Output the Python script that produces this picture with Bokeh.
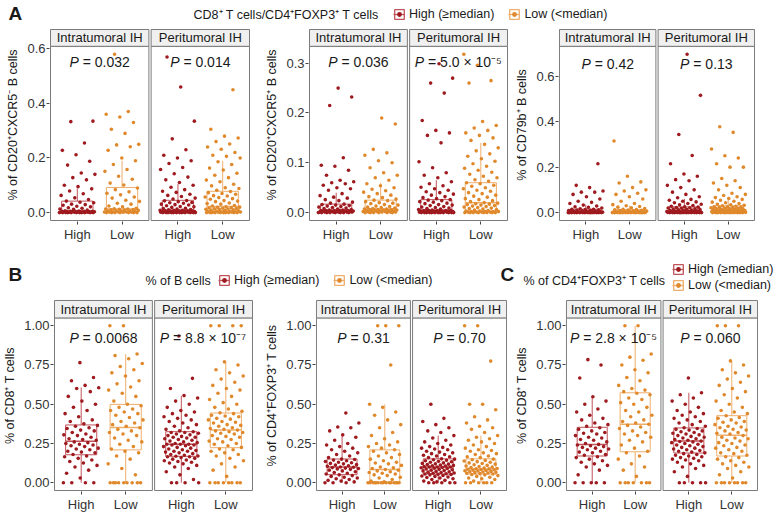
import numpy as np
from bokeh.plotting import figure
from bokeh.layouts import column, row
from bokeh.models import (ColumnDataSource, FixedTicker, Range1d, Label, Legend,
                          LegendItem, CustomJSTickFormatter, NumeralTickFormatter)
from bokeh.core.properties import value
from bokeh.embed import file_html
from bokeh.resources import INLINE

FONT = "Liberation Sans"

groups = ["High", "Low"]
facets = ["Intratumoral IH", "Peritumoral IH"]
legend_labels = ["High (\u2265median)", "Low (<median)"]
PT_COL = {"High": "#9e1a1f", "Low": "#e0892c"}
BOX_COL = {"High": "#c0545b", "Low": "#eeae6c"}

# ---------------- Panel A1 : % of CD20+CXCR5- B cells ----------------
a1_intra_high = [0, 0, 0, 0, 0, 0, 0, 0, 0, 0, 0, 0.001, 0.001, 0.001, 0.001, 0.001,
                 0.001, 0.002, 0.002, 0.002, 0.003, 0.003, 0.003, 0.004, 0.004, 0.004, 0.005, 0.005, 0.005, 0.005,
                 0.006, 0.007, 0.009, 0.012, 0.013, 0.016, 0.018, 0.021, 0.023, 0.027, 0.029, 0.031, 0.036, 0.038, 0.042,
                 0.048, 0.054, 0.063, 0.069, 0.079, 0.087, 0.095, 0.1, 0.12, 0.128, 0.14, 0.145, 0.174, 0.188,
                 0.212, 0.228, 0.255, 0.333, 0.335]
a1_intra_low = [0, 0, 0, 0, 0, 0, 0, 0.001, 0.001, 0.001, 0.002, 0.002, 0.002, 0.003,
                0.004, 0.005, 0.006, 0.006, 0.007, 0.008, 0.009, 0.01, 0.011, 0.012, 0.013, 0.013, 0.014,
                0.016, 0.021, 0.024, 0.031, 0.034, 0.041, 0.045, 0.053, 0.057, 0.065, 0.071, 0.076, 0.084, 0.09,
                0.101, 0.108, 0.122, 0.133, 0.151, 0.158, 0.176, 0.19,
                0.2, 0.228, 0.241, 0.248, 0.25, 0.29, 0.305, 0.33, 0.35, 0.36, 0.37, 0.58]
a1_peri_high = [0, 0, 0, 0, 0, 0, 0, 0, 0, 0, 0, 0, 0.001, 0.001, 0.001, 0.001, 0.002, 0.002, 0.002,
                0.003, 0.003, 0.003, 0.004, 0.004, 0.004, 0.005, 0.005, 0.005, 0.006, 0.006, 0.006, 0.007, 0.007,
                0.007, 0.008, 0.008, 0.008,
                0.01, 0.011, 0.013, 0.015, 0.016, 0.019, 0.021, 0.022, 0.025, 0.028, 0.029, 0.031, 0.034, 0.036,
                0.037, 0.04, 0.043, 0.044,
                0.05, 0.053, 0.059, 0.063, 0.067, 0.074, 0.078, 0.084, 0.093, 0.1,
                0.11, 0.12, 0.13, 0.142, 0.158, 0.165, 0.18, 0.19, 0.2, 0.21, 0.23, 0.27, 0.335, 0.46, 0.57]
a1_peri_low = [0, 0, 0, 0, 0, 0, 0, 0, 0, 0, 0.001, 0.001, 0.002, 0.002, 0.002, 0.003, 0.003,
               0.004, 0.005, 0.006, 0.007, 0.008, 0.009, 0.01, 0.011, 0.012, 0.013, 0.014, 0.015, 0.016, 0.017,
               0.018, 0.019, 0.02, 0.021,
               0.024, 0.026, 0.031, 0.033, 0.035, 0.04, 0.042, 0.044, 0.049, 0.051, 0.055, 0.057, 0.061, 0.062,
               0.067, 0.07, 0.073, 0.077,
               0.082, 0.088, 0.091, 0.098, 0.104, 0.113, 0.119, 0.128, 0.137, 0.144, 0.156, 0.163, 0.176, 0.186,
               0.2, 0.206, 0.21, 0.22, 0.232, 0.24, 0.251, 0.26, 0.273, 0.28, 0.305, 0.45]
a1_box_intra_high = [0.0, 0.0, 0.005, 0.042, 0.088]
a1_box_intra_low = [0.0, 0.001, 0.013, 0.092, 0.19]
a1_box_peri_high = [0.0, 0.002, 0.008, 0.045, 0.105]
a1_box_peri_low = [0.0, 0.003, 0.022, 0.078, 0.19]
a1_p = ["0.032", "0.014"]

# ---------------- Panel A2 : % of CD20+CXCR5+ B cells ----------------
a2_intra_high = [0, 0, 0, 0, 0, 0, 0, 0, 0.001, 0.001, 0.001, 0.001, 0.001, 0.001,
                 0.002, 0.002, 0.002, 0.002, 0.003, 0.003, 0.003, 0.003, 0.004, 0.004, 0.004, 0.004, 0.004,
                 0.005, 0.005, 0.006, 0.007, 0.008, 0.009, 0.01, 0.011, 0.012, 0.013, 0.014, 0.015, 0.016, 0.017,
                 0.019, 0.021, 0.024, 0.026, 0.029, 0.031, 0.034, 0.038,
                 0.045, 0.048, 0.05, 0.055, 0.058, 0.06, 0.062, 0.065, 0.075, 0.085, 0.093, 0.095, 0.11,
                 0.215, 0.232, 0.25]
a2_intra_low = [0, 0, 0, 0, 0, 0, 0.001, 0.001, 0.001, 0.001, 0.002, 0.002, 0.002,
                0.003, 0.003, 0.003, 0.004, 0.004, 0.005, 0.005, 0.005, 0.006, 0.006, 0.006, 0.007, 0.007,
                0.008, 0.009, 0.01, 0.011, 0.012, 0.013, 0.015, 0.016, 0.018, 0.019, 0.02, 0.022, 0.024, 0.025,
                0.027, 0.03, 0.032, 0.035, 0.038, 0.041, 0.044, 0.047, 0.05, 0.054, 0.058,
                0.065, 0.07, 0.075, 0.08, 0.09, 0.1, 0.104, 0.115, 0.12, 0.127, 0.178, 0.19]
a2_peri_high = [0, 0, 0, 0, 0, 0, 0, 0, 0, 0, 0, 0, 0.001, 0.001, 0.001, 0.001, 0.001, 0.001,
                0.002, 0.002, 0.002, 0.002, 0.002, 0.003, 0.003, 0.003, 0.003, 0.003, 0.003, 0.004, 0.004,
                0.004, 0.004, 0.004,
                0.005, 0.006, 0.007, 0.008, 0.009, 0.01, 0.011, 0.012, 0.014, 0.015, 0.016, 0.018, 0.019, 0.021,
                0.022, 0.024, 0.025, 0.026,
                0.028, 0.03, 0.032, 0.035, 0.037, 0.04, 0.042, 0.045, 0.048, 0.051, 0.054, 0.058, 0.062,
                0.07, 0.075, 0.08, 0.09, 0.102, 0.14, 0.155, 0.16, 0.165, 0.185, 0.24, 0.26, 0.27, 0.299]
a2_peri_low = [0, 0, 0, 0, 0, 0, 0, 0, 0.001, 0.001, 0.001, 0.001, 0.002, 0.002, 0.002, 0.002,
               0.003, 0.003,
               0.004, 0.005, 0.006, 0.007, 0.008, 0.009, 0.01, 0.011, 0.012, 0.013, 0.014, 0.015, 0.016, 0.017,
               0.018, 0.019, 0.02,
               0.022, 0.024, 0.026, 0.028, 0.031, 0.033, 0.035, 0.038, 0.04, 0.043, 0.045, 0.048, 0.05, 0.053,
               0.055, 0.058, 0.06,
               0.063, 0.066, 0.07, 0.073, 0.077, 0.081, 0.085, 0.089, 0.093, 0.098, 0.103, 0.108, 0.113, 0.118,
               0.124, 0.13, 0.137,
               0.145, 0.15, 0.155, 0.16, 0.165, 0.17, 0.175, 0.183, 0.26, 0.265, 0.296, 0.318]
a2_box_intra_high = [0.0, 0.001, 0.004, 0.017, 0.04]
a2_box_intra_low = [0.0, 0.002, 0.007, 0.025, 0.06]
a2_box_peri_high = [0.0, 0.001, 0.004, 0.026, 0.065]
a2_box_peri_low = [0.0, 0.003, 0.02, 0.06, 0.14]
a2_p = ["0.036", "5.0 \u00d7 10\u207b\u2075"]

# ---------------- Panel A3 : % of CD79b+ B cells ----------------
a3_intra_high = [0] * 15 + [0.001, 0.001, 0.001, 0.001, 0.001, 0.001, 0.002, 0.002, 0.002, 0.002,
                            0.003, 0.003, 0.003, 0.003,
                            0.004, 0.005, 0.006, 0.007, 0.008, 0.009, 0.01, 0.011, 0.012, 0.013, 0.014, 0.015,
                            0.017, 0.02, 0.023, 0.026, 0.029, 0.033,
                            0.04, 0.045, 0.05, 0.06, 0.07, 0.08, 0.09, 0.09, 0.095, 0.11, 0.12, 0.215]
a3_intra_low = [0] * 15 + [0.001, 0.001, 0.001, 0.001, 0.001, 0.002, 0.002, 0.002, 0.002, 0.002,
                           0.003, 0.003, 0.003, 0.003,
                           0.004, 0.005, 0.006, 0.007, 0.008, 0.009, 0.01, 0.011, 0.012, 0.013,
                           0.015, 0.018, 0.021, 0.024, 0.027, 0.03,
                           0.035, 0.04, 0.05, 0.06, 0.07, 0.08, 0.085, 0.095, 0.1, 0.11, 0.13, 0.135, 0.16, 0.315]
a3_peri_high = [0] * 14 + [0.001, 0.001, 0.001, 0.001, 0.001,
                           0.002, 0.002, 0.002, 0.002, 0.002, 0.003, 0.003, 0.003, 0.003, 0.003,
                           0.004, 0.004, 0.004, 0.004, 0.005, 0.005, 0.005,
                           0.006, 0.007, 0.008, 0.009, 0.01, 0.011, 0.012, 0.013, 0.015, 0.016, 0.017, 0.019,
                           0.02, 0.021, 0.022, 0.024, 0.025,
                           0.028, 0.031, 0.034, 0.037, 0.04, 0.043, 0.047, 0.05, 0.054, 0.058,
                           0.065, 0.07, 0.08, 0.09, 0.1, 0.11, 0.12, 0.14, 0.145, 0.16, 0.17, 0.215, 0.251,
                           0.344, 0.516, 0.697]
a3_peri_low = [0] * 12 + [0.001, 0.001, 0.001, 0.001, 0.001, 0.002, 0.002, 0.002,
                          0.003, 0.003, 0.004, 0.004, 0.005, 0.005, 0.006, 0.006, 0.007, 0.007, 0.008, 0.008,
                          0.009, 0.009, 0.01, 0.01,
                          0.011, 0.012, 0.013, 0.014, 0.015, 0.016, 0.017, 0.018, 0.019, 0.02, 0.021, 0.022,
                          0.023, 0.024, 0.025, 0.026, 0.028, 0.03,
                          0.032, 0.034, 0.037, 0.04, 0.043, 0.046, 0.05, 0.054, 0.058, 0.062, 0.066, 0.07,
                          0.075, 0.08, 0.085, 0.1, 0.11, 0.12, 0.13, 0.14, 0.15, 0.2, 0.2, 0.215, 0.24, 0.25,
                          0.28, 0.353, 0.378]
a3_box_intra_high = [0.0, 0.0, 0.003, 0.015, 0.035]
a3_box_intra_low = [0.0, 0.0, 0.003, 0.013, 0.03]
a3_box_peri_high = [0.0, 0.001, 0.005, 0.025, 0.06]
a3_box_peri_low = [0.0, 0.002, 0.01, 0.03, 0.07]
a3_p = ["0.42", "0.13"]

# ---------------- Panel B1 : % of CD8+ T cells by % of B cells ----------------
b1_intra_high = [0, 0, 0, 0, 0.03, 0.06, 0.08, 0.1, 0.11, 0.125, 0.135, 0.145, 0.155, 0.165, 0.17,
                 0.18, 0.19, 0.195, 0.2, 0.21, 0.215, 0.22, 0.23, 0.235, 0.24, 0.245, 0.25, 0.255, 0.26,
                 0.27, 0.275, 0.28, 0.29, 0.3, 0.305, 0.31, 0.32, 0.33, 0.335, 0.345, 0.35, 0.36, 0.365,
                 0.375, 0.39, 0.4, 0.42, 0.44, 0.46, 0.48, 0.5, 0.52, 0.55, 0.58, 0.6, 0.605,
                 0.62, 0.65, 0.67, 0.765]
b1_intra_low = [0] * 9 + [0.05, 0.09, 0.12, 0.15, 0.17, 0.19, 0.2,
                          0.215, 0.23, 0.245, 0.26, 0.27, 0.285, 0.3, 0.31, 0.32, 0.33, 0.34, 0.35,
                          0.36, 0.37, 0.38, 0.39, 0.4, 0.415, 0.43, 0.44, 0.45, 0.46, 0.47, 0.48, 0.49, 0.5,
                          0.52, 0.55, 0.57, 0.59, 0.61, 0.63, 0.65, 0.68, 0.7, 0.72, 0.74, 0.76, 0.79, 0.81, 0.82,
                          1.0, 1.0]
b1_peri_high = [0, 0, 0, 0, 0.02, 0.05, 0.07, 0.09, 0.1, 0.11, 0.12, 0.125, 0.13, 0.135, 0.14, 0.145,
                0.15, 0.155, 0.16, 0.165, 0.165, 0.168,
                0.17, 0.175, 0.18, 0.185, 0.19, 0.195, 0.2, 0.2, 0.205, 0.21, 0.215, 0.22, 0.225, 0.23,
                0.235, 0.24, 0.24, 0.245, 0.245, 0.245,
                0.25, 0.255, 0.26, 0.265, 0.27, 0.275, 0.28, 0.285, 0.29, 0.29, 0.295, 0.3, 0.305, 0.31,
                0.315, 0.32, 0.32, 0.325,
                0.33, 0.34, 0.35, 0.36, 0.37, 0.38, 0.39, 0.4, 0.41, 0.42, 0.43, 0.44, 0.45, 0.46, 0.48,
                0.5, 0.52, 0.54, 0.555, 0.6, 0.665, 0.935]
b1_peri_low = [0] * 8 + [0.04, 0.08, 0.1, 0.12, 0.14, 0.155, 0.17, 0.18, 0.19, 0.2, 0.21, 0.215,
                         0.225, 0.235, 0.245, 0.25, 0.26, 0.265, 0.275, 0.28, 0.29, 0.295, 0.3, 0.31, 0.315,
                         0.32, 0.325, 0.33, 0.335,
                         0.34, 0.345, 0.35, 0.36, 0.365, 0.37, 0.38, 0.385, 0.39, 0.4, 0.405, 0.41, 0.42,
                         0.425, 0.43, 0.44, 0.445,
                         0.455, 0.47, 0.48, 0.5, 0.51, 0.53, 0.55, 0.57, 0.59, 0.6, 0.62, 0.64, 0.66, 0.68,
                         0.7, 0.72, 0.75, 0.77, 1.0, 1.0, 1.0, 1.0]
b1_box_intra_high = [0.0, 0.178, 0.264, 0.368, 0.607]
b1_box_intra_low = [0.0, 0.209, 0.352, 0.499, 0.82]
b1_box_peri_high = [0.0, 0.168, 0.245, 0.325, 0.554]
b1_box_peri_low = [0.0, 0.223, 0.335, 0.444, 0.775]
b1_p = ["0.0068", "8.8 \u00d7 10\u207b\u2077"]

# ---------------- Panel B2 : % of CD4+FOXP3+ T cells by % of B cells ----------------
b2_intra_high = [0, 0, 0, 0.005, 0.01, 0.015, 0.02, 0.025, 0.03, 0.035, 0.04, 0.045, 0.05,
                 0.055, 0.06, 0.065, 0.07, 0.075, 0.08, 0.085, 0.088, 0.09, 0.093, 0.096, 0.098, 0.1,
                 0.105, 0.108, 0.112, 0.115, 0.12, 0.123, 0.127, 0.13, 0.135, 0.14, 0.144, 0.148, 0.15,
                 0.16, 0.17, 0.18, 0.19, 0.2, 0.21, 0.22, 0.23, 0.24, 0.25, 0.27, 0.29, 0.305,
                 0.33, 0.35, 0.355, 0.38, 0.444]
b2_intra_low = [0] * 15 + [0.005, 0.01, 0.02, 0.03, 0.035, 0.045, 0.05, 0.055, 0.06, 0.065, 0.07, 0.075,
                           0.08, 0.084,
                           0.09, 0.095, 0.1, 0.11, 0.12, 0.125, 0.13, 0.14, 0.15, 0.16, 0.17, 0.18, 0.19, 0.2,
                           0.21,
                           0.22, 0.23, 0.24, 0.25, 0.26, 0.28, 0.3, 0.32, 0.35, 0.37, 0.4, 0.43, 0.45, 0.48, 0.5,
                           0.75, 1.0, 1.0, 1.0]
b2_peri_high = [0, 0, 0, 0, 0, 0.005, 0.01, 0.015, 0.02, 0.025, 0.03, 0.033, 0.036, 0.04, 0.043, 0.046,
                0.05, 0.052, 0.054, 0.055,
                0.057, 0.06, 0.062, 0.065, 0.067, 0.07, 0.072, 0.075, 0.077, 0.08, 0.082, 0.085, 0.087, 0.09,
                0.092, 0.095, 0.097, 0.1, 0.1, 0.1,
                0.103, 0.106, 0.108, 0.11, 0.113, 0.116, 0.118, 0.12, 0.123, 0.126, 0.13, 0.133, 0.136, 0.14,
                0.143, 0.146, 0.15, 0.152,
                0.16, 0.165, 0.17, 0.175, 0.18, 0.185, 0.19, 0.195, 0.2, 0.21, 0.215, 0.22, 0.225, 0.23,
                0.24, 0.25, 0.26, 0.27, 0.285, 0.3,
                0.32, 0.33, 0.35, 0.37, 0.39, 0.41, 0.5]
b2_peri_low = [0] * 6 + [0.01, 0.02, 0.025, 0.03, 0.035, 0.04, 0.045, 0.05, 0.052, 0.055,
                         0.058, 0.06, 0.062, 0.064, 0.066, 0.068, 0.07, 0.072, 0.074, 0.076, 0.078, 0.08, 0.082,
                         0.084, 0.086, 0.088, 0.088,
                         0.09, 0.093, 0.096, 0.1, 0.103, 0.106, 0.11, 0.114, 0.118, 0.122, 0.126, 0.13, 0.134,
                         0.138, 0.142, 0.146, 0.15,
                         0.16, 0.165, 0.17, 0.18, 0.185, 0.19, 0.2, 0.205, 0.21, 0.22, 0.23, 0.24, 0.25, 0.26,
                         0.27, 0.28, 0.29, 0.3,
                         0.32, 0.34, 0.35, 0.36, 0.38, 0.4, 0.42, 0.465, 0.5, 0.5, 0.775, 1.0, 1.0]
b2_box_intra_high = [0.0, 0.051, 0.1, 0.151, 0.309]
b2_box_intra_low = [0.0, 0.0, 0.084, 0.209, 0.499]
b2_box_peri_high = [0.0, 0.055, 0.1, 0.152, 0.3]
b2_box_peri_low = [0.0, 0.055, 0.088, 0.152, 0.3]
b2_p = ["0.31", "0.70"]

# ---------------- Panel C : % of CD8+ T cells by % of CD4+FOXP3+ T cells ----------------
c_intra_high = [0] * 5 + [0.05, 0.08, 0.1, 0.11, 0.12, 0.13, 0.14, 0.15, 0.16, 0.165,
                          0.175, 0.18, 0.19, 0.195, 0.2, 0.21, 0.215, 0.22, 0.225, 0.23, 0.235, 0.24, 0.244,
                          0.25, 0.26, 0.27, 0.275, 0.285, 0.29, 0.3, 0.31, 0.315, 0.32, 0.33, 0.34, 0.35,
                          0.36, 0.37, 0.38, 0.4, 0.41, 0.43, 0.45, 0.47, 0.5, 0.52, 0.548,
                          0.667, 0.75, 0.784]
c_intra_low = [0] * 7 + [0.04, 0.08, 0.1, 0.12, 0.15, 0.17, 0.19,
                         0.2, 0.22, 0.24, 0.26, 0.27, 0.29, 0.3, 0.31, 0.32, 0.33, 0.345, 0.355, 0.365, 0.372,
                         0.38, 0.39, 0.4, 0.42, 0.43, 0.45, 0.46, 0.48, 0.5, 0.51, 0.53, 0.54, 0.56, 0.57,
                         0.58, 0.59, 0.6, 0.62, 0.65, 0.67, 0.7, 0.72, 0.75, 0.78, 0.8, 0.82, 1.0, 1.0]
c_peri_high = [0] * 5 + [0.04, 0.07, 0.09, 0.1, 0.11, 0.12, 0.13, 0.14, 0.145, 0.15, 0.155, 0.16, 0.165,
                         0.17, 0.175, 0.18, 0.185,
                         0.19, 0.195, 0.2, 0.205, 0.21, 0.215, 0.22, 0.225, 0.23, 0.235, 0.24, 0.245, 0.25,
                         0.255, 0.26, 0.262, 0.265,
                         0.27, 0.275, 0.28, 0.285, 0.29, 0.295, 0.3, 0.305, 0.31, 0.315, 0.32, 0.325, 0.33,
                         0.335, 0.34, 0.345, 0.35,
                         0.36, 0.37, 0.38, 0.39, 0.4, 0.41, 0.42, 0.43, 0.44, 0.45, 0.46, 0.48, 0.5, 0.52,
                         0.54, 0.56, 0.573, 0.667]
c_peri_low = [0] * 8 + [0.03, 0.05, 0.07, 0.09, 0.1, 0.11, 0.12, 0.13, 0.14, 0.15, 0.16, 0.165,
                        0.175, 0.185, 0.19, 0.2, 0.21, 0.22, 0.225, 0.235, 0.24, 0.25, 0.255, 0.265, 0.27, 0.28,
                        0.285, 0.29, 0.3,
                        0.31, 0.315, 0.32, 0.33, 0.335, 0.34, 0.35, 0.355, 0.36, 0.37, 0.38, 0.385, 0.39, 0.4,
                        0.41, 0.415, 0.427,
                        0.44, 0.45, 0.46, 0.48, 0.5, 0.52, 0.54, 0.56, 0.58, 0.6, 0.62, 0.64, 0.66, 0.68, 0.7,
                        0.72, 0.75, 0.776, 1.0, 1.0, 1.0]
c_box_intra_high = [0.0, 0.17, 0.244, 0.353, 0.548]
c_box_intra_low = [0.0, 0.197, 0.372, 0.573, 1.0]
c_box_peri_high = [0.0, 0.189, 0.265, 0.349, 0.573]
c_box_peri_low = [0.0, 0.17, 0.302, 0.427, 0.776]
c_p = ["2.8 \u00d7 10\u207b\u2075", "0.060"]

ticks_a1 = [0.0, 0.2, 0.4, 0.6]
ticks_a2 = [0.0, 0.1, 0.2, 0.3]
ticks_a3 = [0.0, 0.2, 0.4, 0.6]
ticks_bc = [0.0, 0.25, 0.5, 0.75, 1.0]

# ---------------- helpers ----------------
FACET_W = 2.2
OFF = 2.25
X0 = 0.4
BOX_HALF = 0.35
JIT = 0.4
CW = {c: 0.556 for c in "0123456789"}
CW.update({".": 0.278, " ": 0.278, "=": 0.584, "\u00d7": 0.584,
           "\u207b": 0.40, "\u2075": 0.40, "\u2077": 0.40})


def text_w(s, fs):
    return sum(CW.get(c, 0.556) for c in s) * fs


def panel(width, height, bl, br, bt, bb, strip_px, p_px, vals, boxes, pvals, ylabel, ticks, fmt):
    allv = np.concatenate([np.asarray(v, float) for fv in vals for v in fv])
    vmin = min(0.0, allv.min())
    vmax = allv.max()
    span = vmax - vmin
    lo, hi = vmin - 0.05 * span, vmax + 0.05 * span
    frame_w = width - bl - br
    frame_h = height - bt - bb
    data_px = frame_h - strip_px
    upp = (hi - lo) / data_px
    stop = hi + strip_px * upp
    x1 = X0 + OFF + FACET_W
    uxp = (x1 - X0) / frame_w
    p = figure(width=width, height=height, output_backend="svg", toolbar_location=None,
               x_range=Range1d(X0 - uxp, x1 + uxp), y_range=Range1d(lo - upp, stop + upp),
               min_border_left=bl, min_border_right=br, min_border_top=bt, min_border_bottom=bb)
    p.outline_line_color = None
    p.xgrid.visible = False
    p.ygrid.visible = False
    lefts = [X0 + f * OFF for f in range(2)]
    rights = [l + FACET_W for l in lefts]
    # boxes + points
    for f in range(2):
        for g in range(2):
            xc = 1 + g + f * OFF
            lw, q1, med, q3, uw = boxes[f][g]
            col = BOX_COL[groups[g]]
            p.segment(x0=[xc, xc], y0=[lw, q3], x1=[xc, xc], y1=[q1, uw], line_color=col, line_width=1)
            p.quad(left=[xc - BOX_HALF], right=[xc + BOX_HALF], bottom=[q1], top=[q3],
                   fill_color=None, line_color=col, line_width=1)
            p.segment(x0=[xc - BOX_HALF], y0=[med], x1=[xc + BOX_HALF], y1=[med],
                      line_color=col, line_width=1.5)
            v = np.asarray(vals[f][g], float)
            k = np.arange(len(v))
            jit = ((k * 0.6180339887 + 0.37 * f + 0.21 * g) % 1.0 - 0.5) * 2 * JIT
            p.scatter(x=xc + jit, y=v, size=3.6, marker="circle",
                      fill_color=PT_COL[groups[g]], line_color=None)
    # facet frames and strips
    p.quad(left=lefts, right=rights, bottom=lo, top=hi, fill_color=None,
           line_color="#7a7a7a", line_width=1)
    p.quad(left=lefts, right=rights, bottom=hi, top=stop, fill_color="#f0f0f0",
           line_color="#7a7a7a", line_width=1)
    p.text(x=[(l + r) / 2 for l, r in zip(lefts, rights)], y=[(hi + stop) / 2] * 2, text=facets,
           text_align="center", text_baseline="middle", text_font=value(FONT),
           text_font_size="13px", text_color="#1a1a1a")
    # P value labels: italic "P" followed by the value
    fs = 14
    wP = 0.667 * fs
    wsp = 0.278 * fs
    cx, pxo, rxo, rest = [], [], [], []
    for f in range(2):
        r = "= " + pvals[f]
        tw = wP + wsp + text_w(r, fs)
        cx.append(X0 + f * OFF + FACET_W / 2)
        pxo.append(-tw / 2)
        rxo.append(-tw / 2 + wP + wsp)
        rest.append(r)
    src = ColumnDataSource(dict(x=cx, y=[hi, hi], pxo=pxo, rxo=rxo, rest=rest))
    p.text(x="x", y="y", text=value("P"), x_offset="pxo", y_offset=p_px, source=src, text_align="left",
           text_baseline="middle", text_font=value(FONT), text_font_size=f"{fs}px",
           text_font_style="italic", text_color="#1a1a1a")
    p.text(x="x", y="y", text="rest", x_offset="rxo", y_offset=p_px, source=src, text_align="left",
           text_baseline="middle", text_font=value(FONT), text_font_size=f"{fs}px", text_color="#1a1a1a")
    # axes
    pos = [1.0, 2.0, 1.0 + OFF, 2.0 + OFF]
    p.xaxis.ticker = FixedTicker(ticks=pos)
    p.xaxis.formatter = CustomJSTickFormatter(
        args=dict(pos=pos, lab=groups * 2),
        code="let b=0; for (let i=0;i<pos.length;i++){ if (Math.abs(pos[i]-tick) < Math.abs(pos[b]-tick)) b=i; } return lab[b];")
    p.yaxis.ticker = FixedTicker(ticks=ticks)
    p.yaxis.formatter = NumeralTickFormatter(format=fmt)
    p.yaxis.axis_label = ylabel
    for ax in (p.xaxis[0], p.yaxis[0]):
        ax.axis_line_color = None
        ax.major_tick_line_color = "#444444"
        ax.major_tick_out = 3
        ax.major_tick_in = 0
        ax.minor_tick_line_color = None
        ax.major_label_text_font = FONT
        ax.major_label_text_font_size = "13px"
        ax.major_label_text_color = "#333333"
        ax.major_label_standoff = 1
    p.xaxis.major_label_standoff = 2
    p.yaxis.axis_label_text_font = FONT
    p.yaxis.axis_label_text_font_size = "12.5px"
    p.yaxis.axis_label_text_font_style = "normal"
    p.yaxis.axis_label_text_color = "#1a1a1a"
    p.yaxis.axis_label_standoff = 4
    return p


def legend_items(fig):
    # renderers sit outside the visible header range; they only feed the legend icons
    items = []
    for g, lab in zip(groups, legend_labels):
        rq = fig.quad(left=[-60], right=[-50], bottom=[-60], top=[-50], fill_color=None,
                      line_color=BOX_COL[g], line_width=1.3)
        rs = fig.segment(x0=[-60], y0=[-55], x1=[-50], y1=[-55], line_color=BOX_COL[g], line_width=1.3)
        rc = fig.scatter(x=[-55], y=[-55], marker="circle", size=4, fill_color=PT_COL[g], line_color=None)
        items.append(LegendItem(label=lab, renderers=[rq, rs, rc]))
    return items


def make_legend(items, loc, orientation):
    return Legend(items=items, location=loc, orientation=orientation, padding=0, margin=0,
                  spacing=14 if orientation == "horizontal" else 2, label_standoff=4,
                  glyph_width=12, glyph_height=12, label_height=14,
                  label_text_font=FONT, label_text_font_size="12.5px", label_text_color="#1a1a1a",
                  border_line_color=None, background_fill_alpha=0)


def header(width, height):
    h = figure(width=width, height=height, output_backend="svg", toolbar_location=None,
               x_range=Range1d(0, width), y_range=Range1d(0, height), min_border=0,
               x_axis_type=None, y_axis_type=None)
    h.outline_line_color = None
    h.xgrid.visible = False
    h.ygrid.visible = False
    return h


def lab(fig, x, y, text, size="12.5px", bold=False):
    fig.add_layout(Label(x=x, y=y, text=text, text_baseline="middle", text_font=FONT,
                         text_font_size=size, text_font_style="bold" if bold else "normal",
                         text_color="#1a1a1a"))


# ---------------- header A ----------------
hA = header(774, 26)
lab(hA, 8, 13, "A", "19px", True)
lab(hA, 193, 12, "CD8\u207a T cells/CD4\u207aFOXP3\u207a T cells")
hA.add_layout(make_legend(legend_items(hA), (393, 5), "horizontal"))

# ---------------- row A ----------------
pA1 = panel(262, 229, 49, 12, 2, 34, 17, 16,
            [[a1_intra_high, a1_intra_low], [a1_peri_high, a1_peri_low]],
            [[a1_box_intra_high, a1_box_intra_low], [a1_box_peri_high, a1_box_peri_low]],
            a1_p, "% of CD20\u207aCXCR5\u207b B cells", ticks_a1, "0.0")
pA2 = panel(250, 229, 45, 4, 2, 34, 17, 16,
            [[a2_intra_high, a2_intra_low], [a2_peri_high, a2_peri_low]],
            [[a2_box_intra_high, a2_box_intra_low], [a2_box_peri_high, a2_box_peri_low]],
            a2_p, "% of CD20\u207aCXCR5\u207a B cells", ticks_a2, "0.0")
pA3 = panel(262, 229, 41, 19, 2, 34, 17, 18,
            [[a3_intra_high, a3_intra_low], [a3_peri_high, a3_peri_low]],
            [[a3_box_intra_high, a3_box_intra_low], [a3_box_peri_high, a3_box_peri_low]],
            a3_p, "% of CD79b\u207a B cells", ticks_a3, "0.0")

# ---------------- header B / C ----------------
hB = header(774, 42)
lab(hB, 8, 23, "B", "19px", True)
lab(hB, 145, 17, "% of B cells")
hB.add_layout(make_legend(legend_items(hB), (218, 10), "horizontal"))
lab(hB, 500, 23, "C", "19px", True)
lab(hB, 523, 17, "% of CD4\u207aFOXP3\u207a T cells")
hB.add_layout(make_legend(legend_items(hB), (672, 5), "vertical"))

# ---------------- row B ----------------
pB1 = panel(262, 217, 53, 9, 2, 19, 18, 20,
            [[b1_intra_high, b1_intra_low], [b1_peri_high, b1_peri_low]],
            [[b1_box_intra_high, b1_box_intra_low], [b1_box_peri_high, b1_box_peri_low]],
            b1_p, "% of CD8\u207a T cells", ticks_bc, "0.00")
pB2 = panel(250, 217, 45, 5, 2, 19, 18, 20,
            [[b2_intra_high, b2_intra_low], [b2_peri_high, b2_peri_low]],
            [[b2_box_intra_high, b2_box_intra_low], [b2_box_peri_high, b2_box_peri_low]],
            b2_p, "% of CD4\u207aFOXP3\u207a T cells", ticks_bc, "0.00")
pC = panel(262, 217, 45, 16, 2, 19, 18, 20,
           [[c_intra_high, c_intra_low], [c_peri_high, c_peri_low]],
           [[c_box_intra_high, c_box_intra_low], [c_box_peri_high, c_box_peri_low]],
           c_p, "% of CD8\u207a T cells", ticks_bc, "0.00")

layout = column(hA, row(pA1, pA2, pA3), hB, row(pB1, pB2, pC))
open("out.html", "w").write(file_html(layout, INLINE))
